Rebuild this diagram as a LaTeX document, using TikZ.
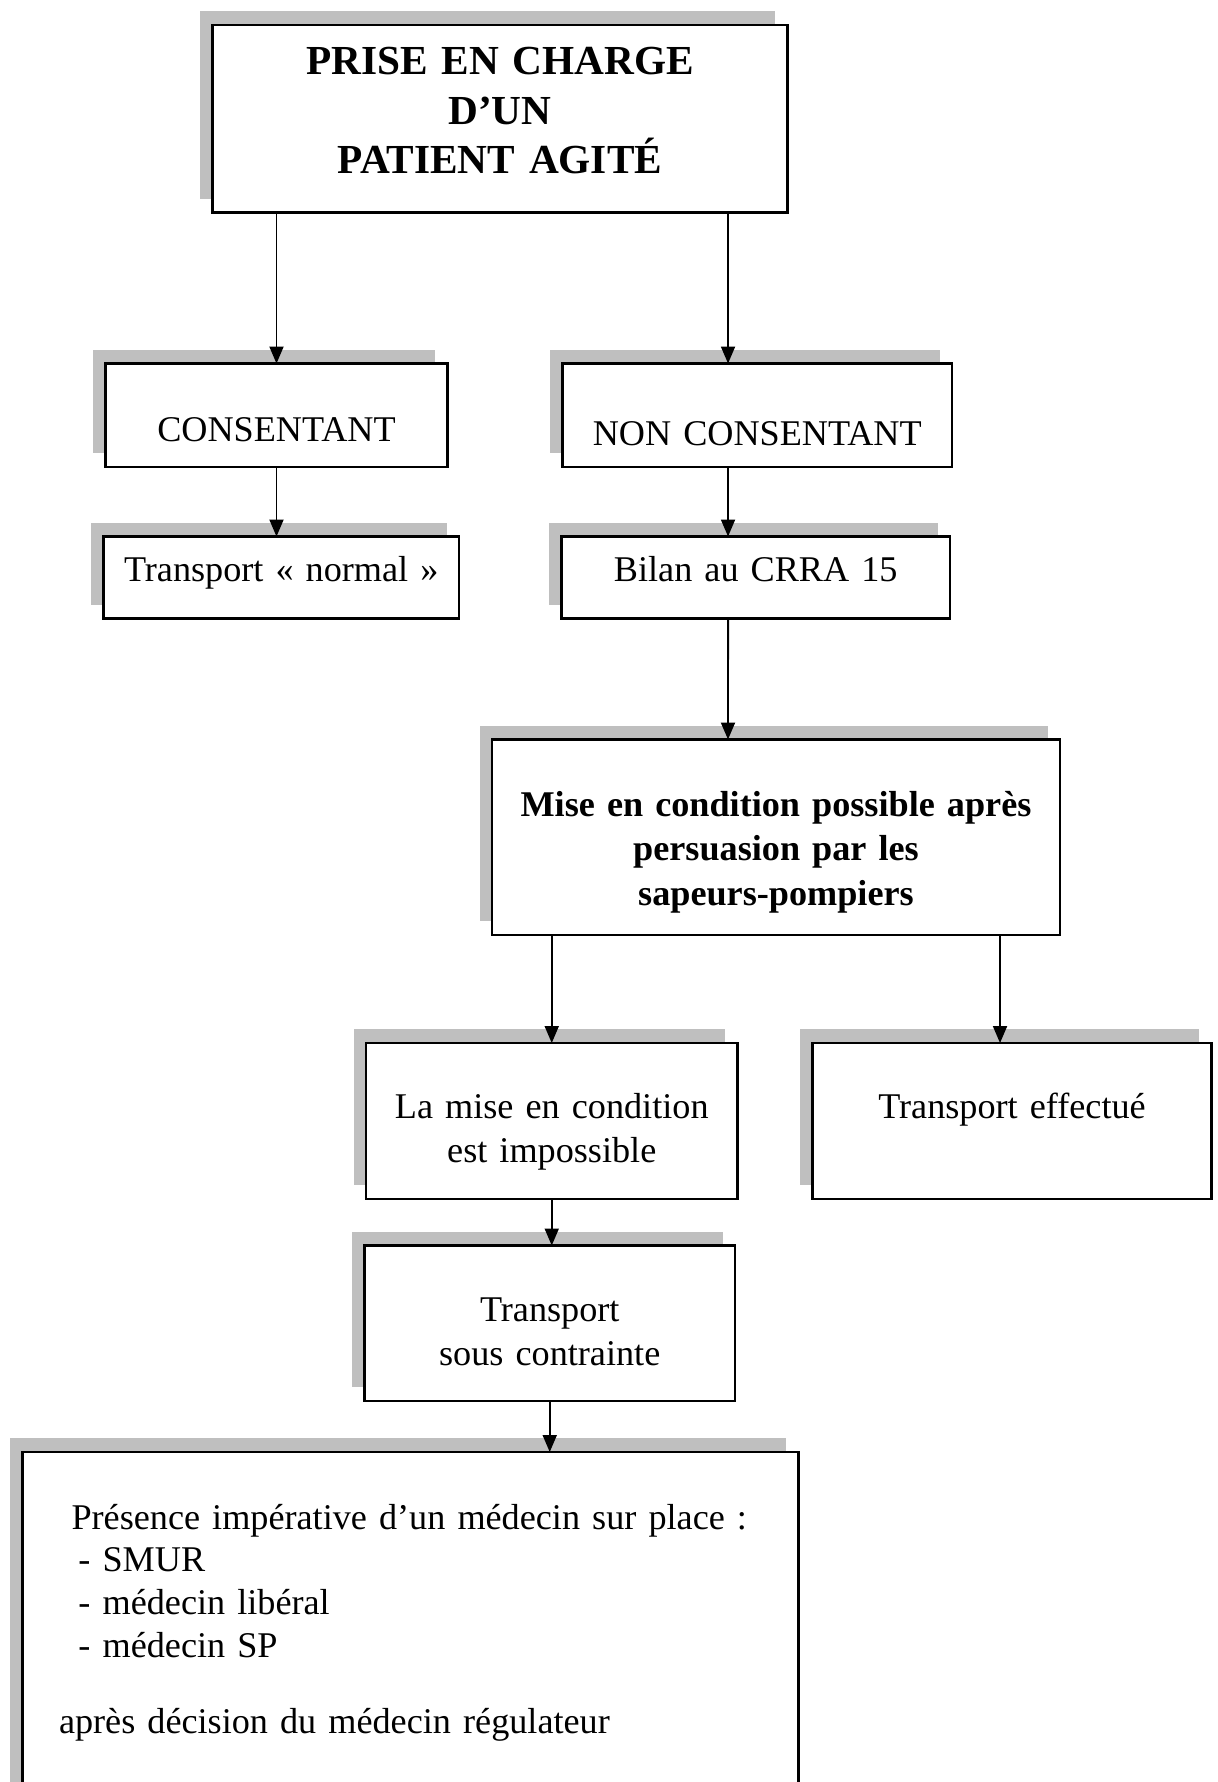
\documentclass[tikz,border=0pt]{standalone}
\usepackage{fontspec}
\setmainfont{Liberation Serif}
\usepackage{tikz}
\usetikzlibrary{arrows.meta, calc, shadows}
\newcommand{\policeTitre}{\fontsize{23.5}{28.45}\selectfont\bfseries}
\newcommand{\policeTexte}{\fontsize{20.6}{25.2}\selectfont}
\newcommand{\policeListe}{\fontsize{20.6}{24.4}\selectfont}
\tikzstyle{fleche} = [line width=1.1pt, -{Triangle[width=0.28cm, length=0.34cm]}, black]
\tikzstyle{boite} = [rectangle, draw=black, line width=1.4pt, fill=white, inner sep=0pt, outer sep=0pt,
                     anchor=north west, align=center, font=\policeTexte,
                     drop shadow={shadow xshift=-0.25cm, shadow yshift=0.28cm, fill=gray!50, opacity=1}]

\begin{document}
\begin{tikzpicture}
    \clip (0,0) rectangle (24.36,-35.64);
    % Boxes
    \node[boite, font=\policeTitre, text width=11.50cm, text height=0.98cm, text depth=2.77cm] (titre) at (4.25,-0.50) {PRISE EN CHARGE\\D’UN\\PATIENT AGITÉ};

    \node[boite, text width=6.84cm, text height=1.55cm, text depth=0.52cm] (cons) at (2.11,-7.27) {CONSENTANT};
    \node[boite, text width=7.79cm, text height=1.63cm, text depth=0.44cm] (non) at (11.25,-7.27) {NON CONSENTANT};

    \node[boite, text width=7.11cm, text height=0.89cm, text depth=0.75cm] (normal) at (2.07,-10.73) {Transport « normal »};
    \node[boite, text width=7.77cm, text height=0.89cm, text depth=0.75cm] (bilan) at (11.23,-10.73) {Bilan au CRRA 15};

    \node[boite, font=\policeTexte\bfseries, text width=11.36cm, text height=1.54cm, text depth=2.37cm] (mise) at (9.84,-14.79) {Mise en condition possible après\\persuasion par les\\sapeurs-pompiers};

    \node[boite, text width=7.43cm, text height=1.50cm, text depth=1.62cm] (lamise) at (7.32,-20.86) {La mise en condition\\est impossible};
    \node[boite, text width=7.98cm, text height=1.50cm, text depth=1.62cm] (effectue) at (16.25,-20.86) {Transport effectué};

    \node[boite, text width=7.41cm, text height=1.52cm, text depth=1.59cm] (contrainte) at (7.29,-24.91) {Transport\\sous contrainte};

    \node[boite, align=left, font=\policeListe, inner xsep=0.73cm, text width=14.06cm, text height=1.54cm, text depth=5.42cm] (medecin) at (0.45,-29.04)
        {\hspace*{0.25cm}Présence impérative d’un médecin sur place~:\\
         \hspace*{0.39cm}- SMUR\\
         \hspace*{0.39cm}- médecin libéral\\
         \hspace*{0.39cm}- médecin SP\\[18.85pt]
         après décision du médecin régulateur};

    % Arrows
    \coordinate (pA) at ($(non.north west)!0.425!(non.north east)$);
    \coordinate (pB) at ($(mise.north west)!0.4155!(mise.north east)$);
    \coordinate (pC) at ($(effectue.north west)!0.47!(effectue.north east)$);
    \draw[fleche] (cons.north |- titre.south) -- (cons.north);
    \draw[fleche] (pA |- titre.south) -- (pA);
    \draw[fleche] (cons.south) -- (cons.south |- normal.north);
    \draw[fleche] (pA |- non.south) -- (pA |- bilan.north);
    \draw[fleche] (pA |- bilan.south) -- (pB);
    \draw[fleche] (lamise.north |- mise.south) -- (lamise.north);
    \draw[fleche] (pC |- mise.south) -- (pC);
    \draw[fleche] (lamise.south) -- (lamise.south |- contrainte.north);
    \draw[fleche] (contrainte.south) -- (contrainte.south |- medecin.north);
\end{tikzpicture}
\end{document}
